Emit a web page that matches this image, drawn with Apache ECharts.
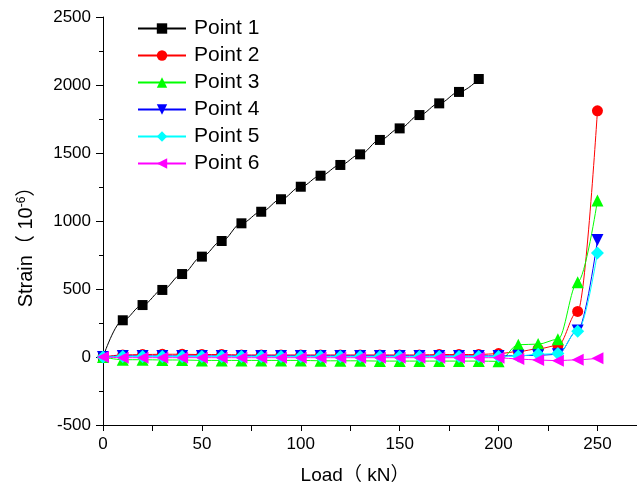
<!doctype html>
<html>
<head>
    <meta charset="utf-8">
    <title>Strain - Load</title>
    <style>
        html, body { margin: 0; padding: 0; background: #fff; }
        #chartEle { width: 637px; height: 493px; }
    </style>
</head>
<body>
<div id="chartEle"></div>
<script src="https://cdn.jsdelivr.net/npm/echarts@6/dist/echarts.min.js"></script>
<script>
    // 荷载 (kN)
    var loads = [0, 10, 20, 30, 40, 50, 60, 70, 80, 90, 100, 110, 120, 130, 140, 150, 160, 170, 180, 190, 200, 210, 220, 230, 240, 250];
    // 各测点应变 (10^-6)
    var point1 = [0, 270, 382, 493, 610, 738, 853, 983, 1068, 1160, 1252, 1333, 1412, 1490, 1596, 1681, 1779, 1865, 1949, 2044];
    var point2 = [0, 15, 18, 20, 20, 18, 18, 15, 15, 15, 15, 15, 15, 15, 15, 15, 15, 18, 18, 18, 25, 40, 60, 85, 335, 1810];
    var point3 = [0, -20, -20, -22, -22, -25, -25, -25, -25, -25, -25, -28, -28, -28, -30, -30, -30, -30, -30, -30, -32, 90, 95, 130, 550, 1150];
    var point4 = [0, 8, 8, 8, 8, 8, 8, 8, 8, 8, 8, 8, 8, 8, 8, 8, 8, 8, 8, 8, 8, 10, 12, 20, 195, 860];
    var point5 = [0, 3, 3, 3, 3, 3, 3, 3, 3, 3, 3, 3, 3, 3, 3, 3, 3, 3, 3, 3, 3, 8, 20, 25, 190, 765];
    var point6 = [0, -5, -5, -5, -5, -5, -5, -5, -5, -5, -5, -5, -5, -5, -5, -5, -5, -5, -5, -5, -5, -15, -22, -27, -20, -10];
    var xTicks = [0, 25, 50, 75, 100, 125, 150, 175, 200, 225, 250];
    var xLabels = [0, 50, 100, 150, 200, 250];

    var font = 'Arial, "Liberation Sans", "Noto Sans CJK SC", sans-serif';

    function pairs(vals) {
        return vals.map(function (v, i) { return [loads[i], v]; });
    }

    function makeSeries(name, vals, color, symbol, size, rotate) {
        return {
            name: name,
            type: 'line',
            smooth: 0.35,
            smoothMonotone: 'x',
            symbol: symbol,
            symbolSize: size,
            symbolRotate: rotate || 0,
            showAllSymbol: true,
            lineStyle: { width: 1, color: color },
            itemStyle: { color: color },
            data: pairs(vals)
        };
    }

    var myChart = echarts.init(document.getElementById('chartEle'));
    var option = {
        animation: false,
        textStyle: { fontFamily: font },
        grid: { left: 103, right: 0, top: 17, bottom: 68 },
        legend: {
            orient: 'vertical',
            left: 132,
            top: 13,
            itemWidth: 48,
            itemHeight: 13,
            itemGap: 6,
            textStyle: { fontSize: 21, lineHeight: 21, color: '#000', fontFamily: font, padding: [0, 0, 0, 3] },
            data: ['Point 1', 'Point 2', 'Point 3', 'Point 4', 'Point 5', 'Point 6']
        },
        xAxis: {
            type: 'value',
            min: 0,
            max: 270,
            interval: 50,
            name: 'Load（ kN）',
            nameLocation: 'middle',
            nameGap: 41,
            nameTextStyle: { fontSize: 19, color: '#000', fontFamily: font, padding: [0, 30, 0, 0] },
            axisLine: { onZero: false, lineStyle: { color: '#000', width: 1 } },
            axisTick: { length: 6, lineStyle: { color: '#000' }, customValues: xTicks },
            axisLabel: { fontSize: 17, color: '#000', margin: 11, customValues: xLabels },
            splitLine: { show: false }
        },
        yAxis: {
            type: 'value',
            min: -500,
            max: 2500,
            interval: 500,
            name: 'Strain（ 10{sup|-6}）',
            nameLocation: 'middle',
            nameRotate: 90,
            nameGap: 66,
            nameTextStyle: {
                fontSize: 20, color: '#000', fontFamily: font, padding: [0, 42, 0, 0],
                rich: { sup: { fontSize: 12, verticalAlign: 'top', color: '#000', fontFamily: font, padding: [0, 0, 9, 0] } }
            },
            axisLine: { onZero: false, lineStyle: { color: '#000', width: 1 } },
            axisTick: { length: 7, lineStyle: { color: '#000' } },
            minorTick: { show: true, splitNumber: 2, length: 4, lineStyle: { color: '#000' } },
            axisLabel: {
                fontSize: 17, color: '#000', margin: 12,
                formatter: function (v) { return String(v); }
            },
            splitLine: { show: false }
        },
        series: [
            makeSeries('Point 1', point1, '#000000', 'rect', 10),
            makeSeries('Point 2', point2, '#ff0000', 'circle', 11),
            makeSeries('Point 3', point3, '#00ff00', 'triangle', 12),
            makeSeries('Point 4', point4, '#0000ff', 'triangle', 12, 180),
            makeSeries('Point 5', point5, '#00ffff', 'diamond', 13),
            makeSeries('Point 6', point6, '#ff00ff', 'triangle', 12, 90)
        ]
    };
    myChart.setOption(option);
</script>
</body>
</html>
